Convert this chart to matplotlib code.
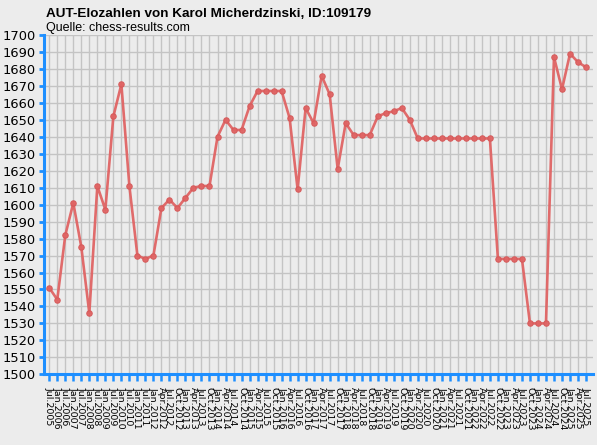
import matplotlib
matplotlib.use("Agg")
import matplotlib.pyplot as plt

# Elo history
labels = ["Jul.2005", "Jan.2006", "Jul.2006", "Jan.2007", "Jul.2007", "Jan.2008",
          "Jul.2008", "Jan.2009", "Jul.2009", "Jan.2010", "Jul.2010", "Jan.2011",
          "Jul.2011", "Jan.2012", "Apr.2012", "Jul.2012", "Oct.2012",
          "Jan.2013", "Apr.2013", "Jul.2013", "Oct.2013",
          "Jan.2014", "Apr.2014", "Jul.2014", "Oct.2014",
          "Jan.2015", "Apr.2015", "Jul.2015", "Oct.2015",
          "Jan.2016", "Apr.2016", "Jul.2016", "Oct.2016",
          "Jan.2017", "Apr.2017", "Jul.2017", "Oct.2017",
          "Jan.2018", "Apr.2018", "Jul.2018", "Oct.2018",
          "Jan.2019", "Apr.2019", "Jul.2019", "Oct.2019",
          "Jan.2020", "Apr.2020", "Jul.2020", "Oct.2020",
          "Jan.2021", "Apr.2021", "Jul.2021", "Oct.2021",
          "Jan.2022", "Apr.2022", "Jul.2022", "Oct.2022",
          "Jan.2023", "Apr.2023", "Jul.2023", "Oct.2023",
          "Jan.2024", "Apr.2024", "Jul.2024", "Oct.2024",
          "Jan.2025", "Apr.2025", "Jul.2025"]

elo = [1551, 1544, 1582, 1601, 1575, 1536, 1611, 1597, 1652, 1671,
       1611, 1570, 1568, 1570, 1598, 1603, 1598, 1604, 1610, 1611,
       1611, 1640, 1650, 1644, 1644, 1658, 1667, 1667, 1667, 1667,
       1651, 1609, 1657, 1648, 1676, 1665, 1621, 1648, 1641, 1641,
       1641, 1652, 1654, 1655, 1657, 1650, 1639, 1639, 1639, 1639,
       1639, 1639, 1639, 1639, 1639, 1639, 1568, 1568, 1568, 1568,
       1530, 1530, 1530, 1687, 1668, 1689, 1684, 1681]

y_ticks = list(range(1500, 1701, 10))

bg = '#ececec'
blue = '#1e8fff'

fig = plt.figure(figsize=(5.97, 4.45), dpi=100, facecolor=bg)
ax = fig.add_axes([43.5/597, 1 - 374.3/445, (593 - 43.5)/597, (374.3 - 35)/445])
ax.set_facecolor(bg)

x = list(range(len(elo)))
ax.plot(x, elo, color='#e06464', lw=1.9, marker='o', ms=3.9,
        mfc='#e06464', mec='#d65a5a', mew=0.8, alpha=0.95, zorder=3)

ax.set_xlim(-0.72, len(elo) - 1 + 0.87)
ax.set_ylim(1500, 1700)

ax.set_yticks(y_ticks)
ax.set_yticklabels([str(v) for v in y_ticks], fontsize=9.4, family='DejaVu Sans')
ax.set_xticks(x)
ax.set_xticklabels(labels, rotation=270, ha='center', va='top',
                   fontsize=6.8, family='DejaVu Sans')

ax.grid(True, color='#c4c4c4', lw=1.0, zorder=0)
ax.set_axisbelow(True)

for s in ['top', 'right']:
    ax.spines[s].set_visible(False)
for s in ['left', 'bottom']:
    ax.spines[s].set_color(blue)
    ax.spines[s].set_linewidth(2.2)

ax.tick_params(axis='y', colors=blue, length=3.8, width=2.0, pad=1.5, labelcolor='black')
ax.tick_params(axis='x', colors=blue, length=5.0, width=1.8, pad=4.0, labelcolor='black')

fig.text(46/597, 1 - 16.7/445, "AUT-Elozahlen von Karol Micherdzinski, ID:109179",
         fontsize=9.7, fontweight='bold', family='Liberation Sans', va='baseline', ha='left')
fig.text(46/597, 1 - 30.5/445, "Quelle: chess-results.com",
         fontsize=9, family='Liberation Sans', va='baseline', ha='left')

fig.savefig('out.png', dpi=100, facecolor=bg)
